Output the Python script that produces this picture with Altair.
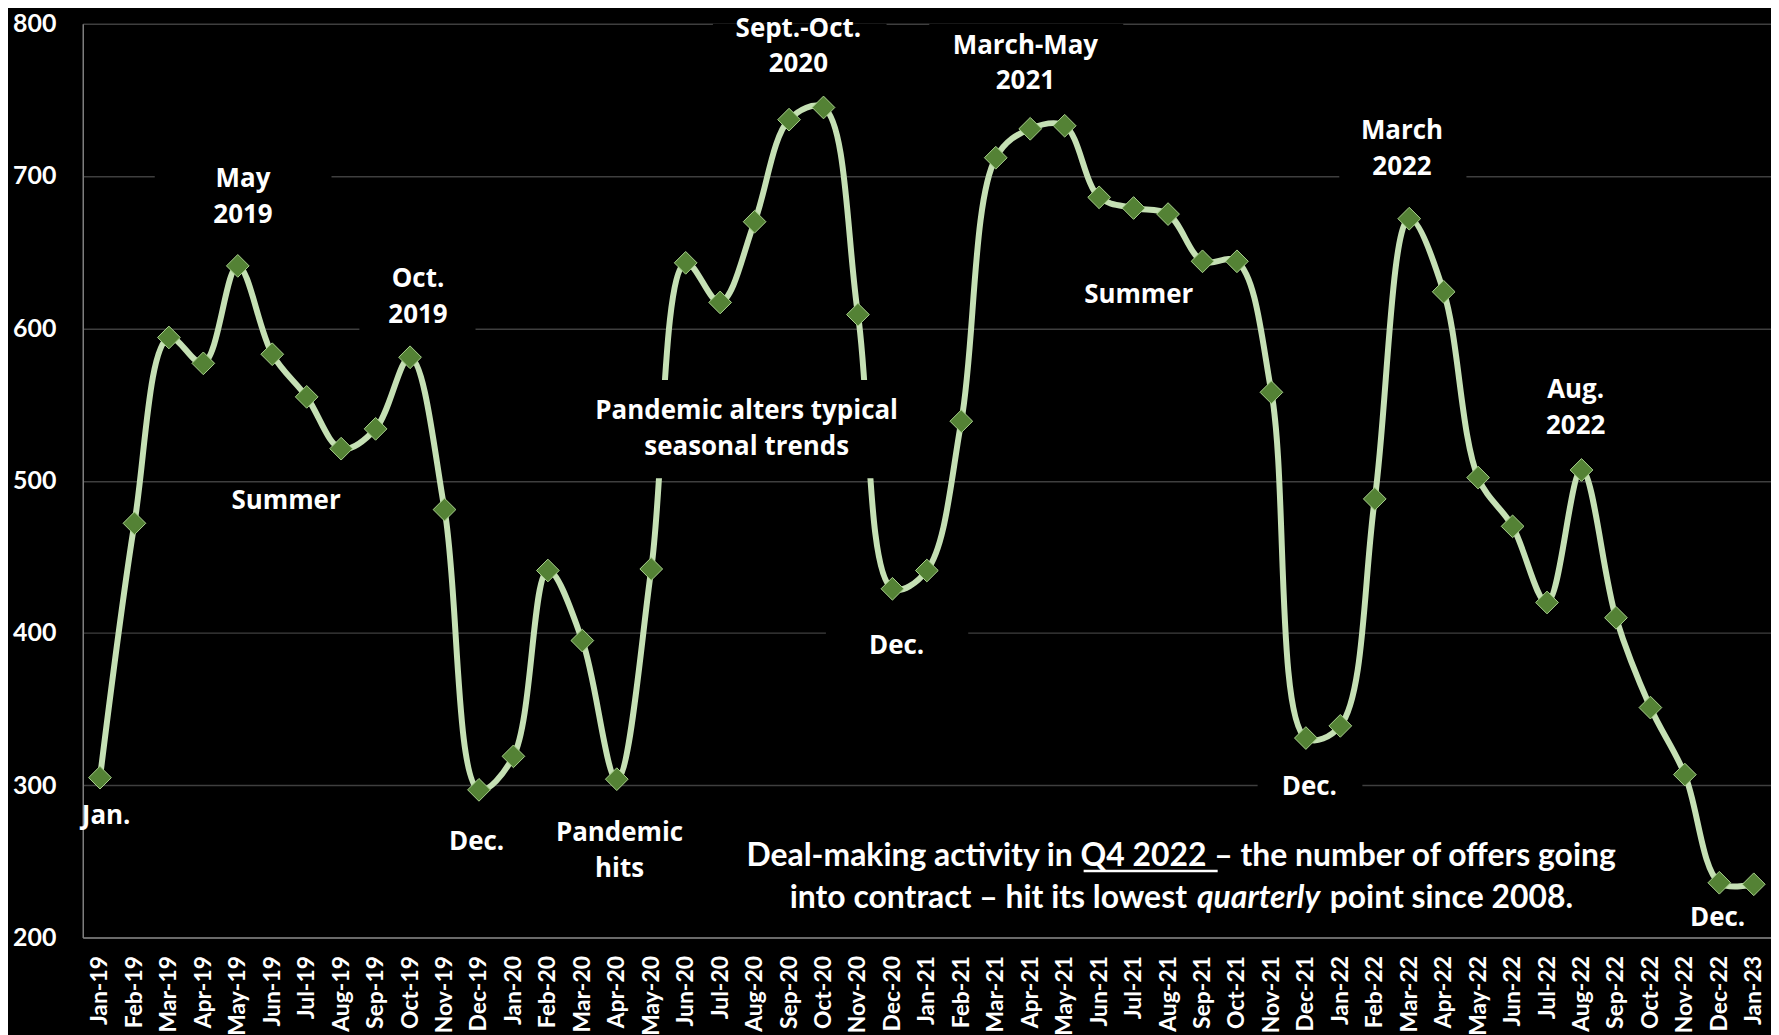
import altair as alt
import pandas as pd

months = [
    "Jan-19", "Feb-19", "Mar-19", "Apr-19", "May-19", "Jun-19", "Jul-19", "Aug-19", "Sep-19", "Oct-19", "Nov-19", "Dec-19",
    "Jan-20", "Feb-20", "Mar-20", "Apr-20", "May-20", "Jun-20", "Jul-20", "Aug-20", "Sep-20", "Oct-20", "Nov-20", "Dec-20",
    "Jan-21", "Feb-21", "Mar-21", "Apr-21", "May-21", "Jun-21", "Jul-21", "Aug-21", "Sep-21", "Oct-21", "Nov-21", "Dec-21",
    "Jan-22", "Feb-22", "Mar-22", "Apr-22", "May-22", "Jun-22", "Jul-22", "Aug-22", "Sep-22", "Oct-22", "Nov-22", "Dec-22",
    "Jan-23",
]
deals = [
    305, 472, 594, 577, 641, 583, 555, 521, 534, 581, 481, 297,
    319, 441, 395, 304, 442, 643, 617, 670, 737, 745, 609, 429,
    441, 539, 712, 731, 733, 686, 679, 675, 644, 644, 558, 331,
    339, 488, 672, 624, 502, 470, 420, 507, 410, 351, 307, 236,
    235,
]
y_ticks = [200, 300, 400, 500, 600, 700, 800]

# annotations: text lines, anchored at (month index, value) of the first line
ann_text = [
    ["Jan."], ["May", "2019"], ["Summer"], ["Oct.", "2019"], ["Dec."], ["Pandemic", "hits"],
    ["Sept.-Oct.", "2020"], ["Pandemic alters typical", "seasonal trends"], ["Dec."],
    ["March-May", "2021"], ["Summer"], ["Dec."], ["March", "2022"], ["Aug.", "2022"], ["Dec."],
]
ann_x = [0.18, 4.15, 5.4, 9.23, 10.93, 15.08, 20.27, 18.77, 23.12, 26.86, 30.15, 35.1, 37.79, 42.83, 46.95]
ann_y = [279.7, 697.8, 486.5, 632.5, 262.7, 268.6, 796.8, 545.4, 391.6, 785.6, 622, 298.7, 729.3, 559.2, 213]

# black boxes behind some annotations (month index range, value range)
mask_x = [1.59, 7.53, 17.79, 14.3, 21.07, 24.07, 33.6, 35.97]
mask_x2 = [6.72, 10.9, 22.83, 23.1, 25.2, 29.7, 36.64, 39.66]
mask_y = [725, 646, 800, 566, 404, 800, 309, 747.6]
mask_y2 = [660, 597, 760, 501.5, 378, 747.6, 286, 688.7]

note_line1 = "Deal-making activity in Q4 2022 \u2013 the number of offers going"
note_line2_a = "into contract \u2013 hit its lowest"
note_line2_b = "quarterly"
note_line2_c = "point since 2008."

df = pd.DataFrame({"month": months, "deals": deals})
ann_df = pd.DataFrame({"text": ann_text, "x": ann_x, "y": ann_y})
mask_df = pd.DataFrame({"x": mask_x, "x2": mask_x2, "y": mask_y, "y2": mask_y2})

qx = alt.Scale(domain=[-0.5, len(months) - 0.5], nice=False, zero=False)
yscale = alt.Scale(domain=[200, 800], nice=False, zero=False)

x_enc = alt.X(
    "month:O", sort=months, title=None,
    scale=alt.Scale(paddingInner=0, paddingOuter=0),
    axis=alt.Axis(labelAngle=-90, grid=False, ticks=False, labelPadding=18, labelFontSize=23,
                  labelFont="Lato", labelFontWeight="bold", labelColor="white",
                  domainColor="#7f7f7f", domainWidth=1.5, labelOverlap=False),
)
y_axis = alt.Axis(values=y_ticks, grid=True, gridColor="#3f3f3f", gridWidth=1.5, ticks=False,
                  labelPadding=27, labelFontSize=25, labelFont="Lato", labelFontWeight="bold",
                  labelColor="white", domainColor="#7f7f7f", domainWidth=1.5, title=None)
y_enc = alt.Y("deals:Q", scale=yscale, title=None, axis=y_axis)

base = alt.Chart(df)
line = base.mark_line(interpolate="catmull-rom", color="#C5E0B4", strokeWidth=6).encode(x=x_enc, y=y_enc)
points = base.mark_point(shape="diamond", filled=True, size=520, fill="#548235", stroke="#A9D18E",
                         strokeWidth=1, opacity=1).encode(x=x_enc, y=y_enc)
data_layer = alt.layer(line, points)


def qxe(field):
    return alt.X(field, type="quantitative", scale=qx, axis=None, title=None)


def qye(field):
    return alt.Y(field, type="quantitative", scale=yscale, title=None, axis=y_axis)


masks = alt.Chart(mask_df).mark_rect(color="black").encode(x=qxe("x"), x2="x2", y=qye("y"), y2="y2")

ann = alt.Chart(ann_df).mark_text(font="Open Sans", fontWeight="bold", fontSize=26, color="white",
                                  align="center", baseline="middle", lineHeight=36).encode(
    x=qxe("x"), y=qye("y"), text="text")

note_font = dict(font="Lato", fontWeight="bold", fontSize=32, color="white", baseline="middle")
note1 = alt.Chart(pd.DataFrame({"t": [note_line1], "x": [31.38], "y": [253.5]})).mark_text(
    align="center", **note_font).encode(x=qxe("x"), y=qye("y"), text="t")
note2a = alt.Chart(pd.DataFrame({"t": [note_line2_a], "x": [31.55], "y": [226.0]})).mark_text(
    align="right", **note_font).encode(x=qxe("x"), y=qye("y"), text="t")
note2b = alt.Chart(pd.DataFrame({"t": [note_line2_b], "x": [31.84], "y": [226.0]})).mark_text(
    align="left", fontStyle="italic", **note_font).encode(x=qxe("x"), y=qye("y"), text="t")
note2c = alt.Chart(pd.DataFrame({"t": [note_line2_c], "x": [35.69], "y": [226.0]})).mark_text(
    align="left", **note_font).encode(x=qxe("x"), y=qye("y"), text="t")
underline = alt.Chart(pd.DataFrame({"x": [28.55], "x2": [32.44], "y": [243.7]})).mark_rule(
    color="white", strokeWidth=2.5
).encode(x=qxe("x"), x2="x2", y=qye("y"))

chart = alt.layer(
    data_layer, masks, ann, note1, note2a, note2b, note2c, underline
).resolve_scale(x="independent").properties(
    width=1694, height=917, background="black",
    padding={"left": 4, "top": 2, "right": 0, "bottom": 0},
).configure_view(strokeWidth=0)

chart.save("out.html", embed_options={"renderer": "svg", "actions": False})
